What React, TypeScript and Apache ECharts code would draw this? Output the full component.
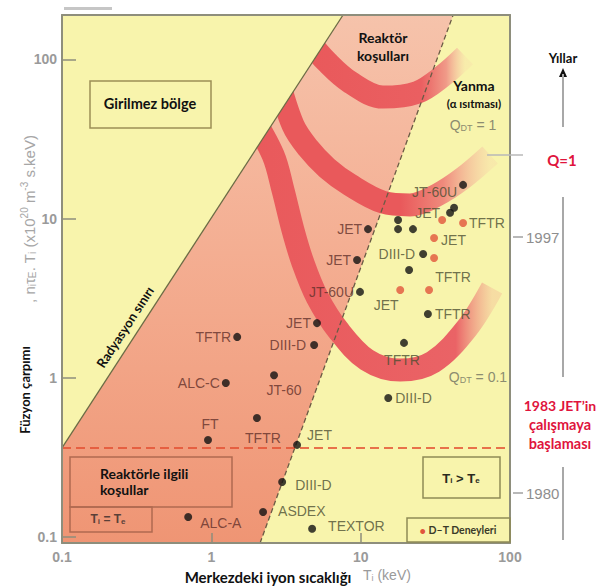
import React, { useEffect, useRef } from 'react';
import * as echarts from 'echarts';

// ---- axes (log-log) ----
const tiRange = [0.1, 100];
const productRange = [0.092, 190];
const tiTickValues = [0.1, 1, 10, 100];
const productTickValues = [0.1, 1, 10, 100];

// ---- experiments (black dots) ----
const machineNames = ['JT-60U', '', 'JET', '', '', '', 'JET', 'DIII-D', 'JET', '', 'JT-60U', 'TFTR', 'TFTR', 'JET', 'DIII-D', 'TFTR', 'ALC-C', 'JT-60', 'FT', 'TFTR', 'JET', 'DIII-D', 'ASDEX', 'TEXTOR', 'ALC-A', 'DIII-D'];
const machineTi = [48.5, 42.2, 39.7, 17.8, 17.8, 22.4, 11.2, 26.2, 9.46, 21.1, 9.9, 28.2, 19.5, 5.1, 4.88, 1.49, 1.25, 2.63, 0.95, 2.02, 3.75, 2.98, 2.22, 4.73, 0.7, 15.3];
const machineProduct = [16.3, 11.7, 10.9, 9.8, 8.6, 8.6, 8.6, 6.0, 5.5, 4.76, 3.47, 2.52, 1.66, 2.21, 1.61, 1.81, 0.93, 1.04, 0.408, 0.561, 0.38, 0.222, 0.144, 0.113, 0.134, 0.749];

// ---- D-T experiments (red dots) ----
const dtNames = ['', 'TFTR', 'JET', '', 'JET', 'TFTR'];
const dtTi = [35.1, 48.5, 31.0, 31.0, 18.4, 28.7];
const dtProduct = [9.8, 9.4, 7.57, 5.67, 3.57, 3.57];

// ---- Q bands ----
const ignitionBandTi = [4.44, 5.96, 8.49, 14.1, 23.9, 35.6, 50];
const ignitionBandProduct = [132, 96, 72, 58, 62, 79, 105];
const qOneBandTi = [2.75, 3.52, 4.44, 5.96, 8.49, 14.1, 21.4, 32.5, 48.5, 73.6];
const qOneBandProduct = [79.8, 38.7, 27.8, 20.8, 16.3, 12.7, 12.2, 14.1, 18.0, 25.1];
const qTenthBandTi = [1.815, 2.59, 3.02, 3.52, 4.11, 5.11, 7.06, 11.0, 18.4, 30.5, 51.6, 75.9];
const qTenthBandProduct = [46.1, 25.1, 15.1, 8.49, 5.27, 3.22, 2.0, 1.3, 1.12, 1.26, 2.06, 3.67];

// ---- boundaries ----
const radiationLimitTi = [0.1, 7.62];
const radiationLimitProduct = [0.3635, 190];
const reactorEdgeTi = [2.12, 41.6];
const reactorEdgeProduct = [0.092, 190];
const jetStartLevel = 0.3635;

// ---- year scale ----
const yearLabels = ['1997', '1980'];

// label placement (layout only): [align, dx, dy]
const machinePlacement: [string, number, number][] = [
  ['right', -6, 7], ['center', 0, 0], ['right', -10, 0], ['center', 0, 0], ['center', 0, 0], ['center', 0, 0],
  ['right', -6, 0], ['right', -8, 0], ['right', -6, 0], ['center', 0, 0], ['right', -6, 0], ['left', 7, 0],
  ['center', -2, 17], ['right', -6, 0], ['right', -8, 0], ['right', -6, 0], ['right', -6, 0], ['center', 10, 15],
  ['center', 2, -16], ['center', 6, 20], ['left', 10, -10], ['left', 13, 3], ['left', 15, -1], ['left', 16, -3],
  ['left', 12, 6], ['left', 7, 0],
];
const dtPlacement: [string, number, number][] = [
  ['center', 0, 0], ['left', 6, 0], ['left', 7, 2], ['center', 0, 0], ['center', -14, 15], ['center', 24, -13],
];

const GRID = { left: 62, top: 15, width: 448, height: 528 };
const YELLOW = '#f8f4ac';
const FRAME = '#8e8e7c';
const BAND = '#e9595b';
const BOLD = 'Lato, "Noto Sans", sans-serif';
const PLAIN = '"Liberation Sans", Arial, sans-serif';

const pxPerDecX = GRID.width / (Math.log10(tiRange[1]) - Math.log10(tiRange[0]));
const pxPerDecY = GRID.height / (Math.log10(productRange[1]) - Math.log10(productRange[0]));

function labelTone(x: number, y: number, align: string, dx: number, dy: number, text: string) {
  const w = text.length * 8.5;
  const cx = dx + (align === 'left' ? w / 2 : align === 'right' ? -w / 2 : 0);
  const lx = Math.log10(x) + cx / pxPerDecX;
  const ly = Math.log10(y) - dy / pxPerDecY;
  const ex0 = Math.log10(reactorEdgeTi[0]), ex1 = Math.log10(reactorEdgeTi[1]);
  const ey0 = Math.log10(reactorEdgeProduct[0]), ey1 = Math.log10(reactorEdgeProduct[1]);
  const edge = ex0 + ((ly - ey0) * (ex1 - ex0)) / (ey1 - ey0);
  return lx < edge ? '#62302a' : '#4c4e32';
}

function pointData(names: string[], xs: number[], ys: number[], place: [string, number, number][]) {
  return names.map((name, i) => {
    const [align, dx, dy] = place[i];
    return {
      value: [xs[i], ys[i]],
      name,
      label: name
        ? {
            show: true,
            position: 'inside',
            align,
            verticalAlign: 'middle',
            offset: [dx, dy],
            formatter: name,
            color: labelTone(xs[i], ys[i], align, dx, dy, name),
            fontSize: 14,
            fontFamily: PLAIN,
          }
        : { show: false },
    };
  });
}

function polygonSeries(pts: number[][], fill: any, z: number) {
  return {
    type: 'custom',
    coordinateSystem: 'cartesian2d',
    silent: true,
    clip: true,
    z,
    data: [pts[0]],
    renderItem: (_p: any, api: any) => ({
      type: 'polygon',
      shape: { points: pts.map((p) => api.coord(p)) },
      style: { fill },
    }),
  };
}

function bandSeries(xs: number[], ys: number[], stops: [number, string][]) {
  return {
    type: 'line',
    silent: true,
    z: 2,
    smooth: 0.35,
    showSymbol: false,
    data: xs.map((x, i) => [x, ys[i]]),
    lineStyle: {
      width: 23,
      cap: 'butt',
      color: new echarts.graphic.LinearGradient(0, 0, 1, 0, stops.map(([offset, color]) => ({ offset, color }))),
    },
  };
}

function tickFormatter(ticks: number[]) {
  return (v: number) => {
    const t = ticks.find((k) => Math.abs(Math.log10(k) - Math.log10(v)) < 0.01);
    return t === undefined ? '' : String(t);
  };
}

const txt = (x: number, y: number, text: string, style: any, extra: any = {}) => ({
  type: 'text', x, y, z: 50, silent: true,
  style: { text, align: 'center', verticalAlign: 'middle', ...style },
  ...extra,
});

export default function App() {
  const ref = useRef<HTMLDivElement>(null);
  useEffect(() => {
    if (!ref.current) return;
    const chart = echarts.init(ref.current, undefined, { renderer: 'svg' });

    const pinkPolygon = [
      [tiRange[0], productRange[0]],
      [tiRange[0], productRange[1]],
      [reactorEdgeTi[1], reactorEdgeProduct[1]],
      [reactorEdgeTi[0], reactorEdgeProduct[0]],
    ];
    const yellowTriangle = [
      [radiationLimitTi[0], radiationLimitProduct[0]],
      [radiationLimitTi[1], radiationLimitProduct[1]],
      [tiRange[0], productRange[1]],
    ];

    const sub = (size: number, color: string, weight = 'normal', family = PLAIN) => ({
      fontSize: size, fill: color, fontWeight: weight, fontFamily: family, padding: [size * 0.7, 0, 0, 0],
    });
    const sup = (size: number, color: string, family = PLAIN) => ({
      fontSize: size, fill: color, fontFamily: family, padding: [0, 0, size * 0.9, 0],
    });
    const norm = (size: number, color: string, weight = 'normal', family = PLAIN) => ({
      fontSize: size, fill: color, fontWeight: weight, fontFamily: family,
    });

    const axisBase = {
      type: 'log',
      logBase: 10,
      z: 20,
      splitLine: { show: false },
      minorTick: { show: false },
      axisLine: { show: true, onZero: false, lineStyle: { color: FRAME, width: 2 } },
    };

    const option: any = {
      animation: false,
      backgroundColor: '#ffffff',
      grid: { ...GRID, show: true, backgroundColor: YELLOW, borderWidth: 0 },
      xAxis: [
        {
          ...axisBase,
          min: tiRange[0], max: tiRange[1], position: 'bottom',
          axisTick: { show: true, inside: true, length: 10, lineStyle: { color: FRAME, width: 1.5 } },
          axisLabel: {
            show: true, margin: 7, color: '#9a9a9a', fontSize: 14, fontWeight: 'bold', fontFamily: PLAIN,
            formatter: tickFormatter(tiTickValues),
          },
        },
        {
          ...axisBase,
          min: tiRange[0], max: tiRange[1], position: 'top',
          axisTick: { show: false }, axisLabel: { show: false },
        },
      ],
      yAxis: [
        {
          ...axisBase,
          min: productRange[0], max: productRange[1], position: 'left',
          axisTick: { show: true, inside: true, length: 14, lineStyle: { color: FRAME, width: 1.5 } },
          axisLabel: {
            show: true, margin: 5, color: '#9a9a9a', fontSize: 14, fontWeight: 'bold', fontFamily: PLAIN,
            showMinLabel: false, showMaxLabel: false,
            formatter: tickFormatter(productTickValues),
          },
        },
        {
          ...axisBase,
          min: productRange[0], max: productRange[1], position: 'right',
          axisTick: { show: false }, axisLabel: { show: false },
        },
      ],
      series: [
        polygonSeries(
          pinkPolygon,
          new echarts.graphic.LinearGradient(0, 0, 0, 1, [
            { offset: 0, color: '#f6c3ab' },
            { offset: 0.45, color: '#f4ae92' },
            { offset: 1, color: '#ef9574' },
          ]),
          1
        ),
        bandSeries(ignitionBandTi, ignitionBandProduct, [[0, BAND], [0.72, '#ea5f61'], [0.88, '#f09a88'], [1, 'rgba(246,190,165,0.15)']]),
        bandSeries(qOneBandTi, qOneBandProduct, [[0, BAND], [0.58, BAND], [0.78, '#ef8a7c'], [1, 'rgba(246,190,165,0.2)']]),
        bandSeries(qTenthBandTi, qTenthBandProduct, [[0, BAND], [0.85, '#ea6366'], [1, 'rgba(240,150,135,0.25)']]),
        polygonSeries(yellowTriangle, YELLOW, 3),
        {
          type: 'line', silent: true, z: 4, showSymbol: false,
          data: radiationLimitTi.map((x, i) => [x, radiationLimitProduct[i]]),
          lineStyle: { color: '#6b6b45', width: 1.3 },
        },
        {
          type: 'line', silent: true, z: 4, showSymbol: false,
          data: reactorEdgeTi.map((x, i) => [x, reactorEdgeProduct[i]]),
          lineStyle: { color: '#6b5b45', width: 1.3, type: [5, 3] },
        },
        {
          type: 'line', silent: true, z: 4, showSymbol: false,
          data: [[tiRange[0], jetStartLevel], [tiRange[1], jetStartLevel]],
          lineStyle: { color: 'rgba(228,80,50,0.8)', width: 2, type: [9, 5] },
        },
        {
          type: 'scatter', z: 6, silent: true, symbolSize: 8,
          itemStyle: { color: '#111111' },
          data: pointData(machineNames, machineTi, machineProduct, machinePlacement),
        },
        {
          type: 'scatter', z: 6, silent: true, symbolSize: 8,
          itemStyle: { color: '#e1553c' },
          data: pointData(dtNames, dtTi, dtProduct, dtPlacement),
        },
      ],
      graphic: [
        { type: 'rect', z: 50, silent: true, shape: { x: 64, y: 7, width: 48, height: 3 }, style: { fill: '#a0a0a0', opacity: 0.6 } },
        // Girilmez bölge
        { type: 'rect', z: 50, silent: true, shape: { x: 90, y: 81, width: 121, height: 47 }, style: { fill: 'none', stroke: '#9c8f55', lineWidth: 1.5 } },
        txt(150, 103, 'Girilmez bölge', { font: `bold 14.5px ${BOLD}`, fill: '#111' }),
        // Reaktörle ilgili koşullar
        { type: 'rect', z: 50, silent: true, shape: { x: 70, y: 457, width: 162, height: 50 }, style: { fill: 'none', stroke: '#b06a50', lineWidth: 1.5 } },
        { type: 'rect', z: 50, silent: true, shape: { x: 70, y: 507, width: 82, height: 25 }, style: { fill: 'none', stroke: '#b06a50', lineWidth: 1.5 } },
        txt(100, 473, 'Reaktörle ilgili', { font: `bold 14px ${BOLD}`, fill: '#111', align: 'left' }),
        txt(100, 489, 'koşullar', { font: `bold 14px ${BOLD}`, fill: '#111', align: 'left' }),
        txt(108, 519, '{m|T}{s|i}{m| = T}{s|e}', {
          rich: { m: norm(12, '#5a4038', 'bold'), s: sub(8, '#5a4038', 'bold') },
        }),
        // Ti > Te
        { type: 'rect', z: 50, silent: true, shape: { x: 423, y: 457, width: 77, height: 41 }, style: { fill: 'none', stroke: '#8f8a55', lineWidth: 1.5 } },
        txt(461, 478, '{m|T}{s|i}{m| > T}{s|e}', {
          rich: { m: norm(13, '#2a2a20', 'bold'), s: sub(8, '#2a2a20', 'bold') },
        }),
        // legend
        { type: 'rect', z: 50, silent: true, shape: { x: 407, y: 518, width: 103, height: 24 }, style: { fill: 'none', stroke: '#8f8a55', lineWidth: 1.5 } },
        txt(458, 530, '{r|•}{t| D–T Deneyleri}', {
          rich: { r: norm(11, '#e1553c', 'bold', BOLD), t: norm(10.5, '#3a3a28', 'bold', BOLD) },
        }),
        // region texts
        txt(383, 37, 'Reaktör', { font: `bold 14px ${BOLD}`, fill: '#111' }),
        txt(383, 55, 'koşulları', { font: `bold 14px ${BOLD}`, fill: '#111' }),
        txt(474, 85, 'Yanma', { font: `bold 14px ${BOLD}`, fill: '#111' }),
        txt(474, 103, '(α ısıtması)', { font: `bold 11.5px ${BOLD}`, fill: '#111' }),
        txt(473, 125, '{m|Q}{s|DT}{m| = 1}', { rich: { m: norm(14, '#8c8c70'), s: sub(9, '#8c8c70') } }),
        txt(478, 377, '{m|Q}{s|DT}{m| = 0.1}', { rich: { m: norm(14, '#8c8c70'), s: sub(9, '#8c8c70') } }),
        txt(125, 327, 'Radyasyon sınırı', { font: `bold 13px ${BOLD}`, fill: '#111' }, { rotation: Math.atan2(433, 280) }),
        // axis titles
        txt(25, 390, 'Füzyon çarpımı', { font: `bold 13px ${BOLD}`, fill: '#111' }, { rotation: Math.PI / 2 }),
        txt(29, 219, '{m|, n}{s|i}{m|τ}{s|E}{m|. T}{s|i}{m| (x10}{p|20}{m| m}{p|-3}{m| s.keV)}', {
          rich: { m: norm(15, '#a6a6a6'), s: sub(10, '#a6a6a6'), p: sup(10, '#a6a6a6') },
        }, { rotation: Math.PI / 2 }),
        txt(268, 577, 'Merkezdeki iyon sıcaklığı', { font: `bold 15px ${BOLD}`, fill: '#111' }),
        txt(363, 575, '{m|T}{s|i}{m| (keV)}', { align: 'left', rich: { m: norm(14, '#9a9a9a'), s: sub(9, '#9a9a9a') } }),
        // years scale
        txt(563, 58, 'Yıllar', { font: `bold 13px ${BOLD}`, fill: '#111' }),
        { type: 'polygon', z: 50, silent: true, shape: { points: [[559, 77], [567, 77], [563, 68]] }, style: { fill: '#111' } },
        { type: 'line', z: 50, silent: true, shape: { x1: 563, y1: 74, x2: 563, y2: 127 }, style: { stroke: '#a8a8a8', lineWidth: 2 } },
        { type: 'line', z: 50, silent: true, shape: { x1: 563, y1: 197, x2: 563, y2: 377 }, style: { stroke: '#a8a8a8', lineWidth: 2 } },
        { type: 'line', z: 50, silent: true, shape: { x1: 563, y1: 467, x2: 563, y2: 540 }, style: { stroke: '#a8a8a8', lineWidth: 2 } },
        { type: 'line', z: 50, silent: true, shape: { x1: 487, y1: 155, x2: 523, y2: 155 }, style: { stroke: '#b8b8b8', lineWidth: 1.5 } },
        { type: 'line', z: 50, silent: true, shape: { x1: 513, y1: 237, x2: 523, y2: 237 }, style: { stroke: '#a0a0a0', lineWidth: 1.5 } },
        { type: 'line', z: 50, silent: true, shape: { x1: 513, y1: 493, x2: 523, y2: 493 }, style: { stroke: '#a0a0a0', lineWidth: 1.5 } },
        txt(526, 237, yearLabels[0], { font: `15px ${PLAIN}`, fill: '#8e8e8e', align: 'left' }),
        txt(526, 493, yearLabels[1], { font: `15px ${PLAIN}`, fill: '#8e8e8e', align: 'left' }),
        txt(562, 160, 'Q=1', { font: `bold 15px ${BOLD}`, fill: '#e0143c' }),
        txt(560, 405, '1983 JET’in', { font: `bold 14px ${BOLD}`, fill: '#e0143c' }),
        txt(560, 424, 'çalışmaya', { font: `bold 14.5px ${BOLD}`, fill: '#e0143c' }),
        txt(560, 443, 'başlaması', { font: `bold 14.5px ${BOLD}`, fill: '#e0143c' }),
      ],
    };

    chart.setOption(option);
    return () => chart.dispose();
  }, []);

  return (
    <div
      ref={ref}
      style={{ position: 'absolute', left: 0, top: 0, width: 597, height: 588, background: '#fff' }}
    />
  );
}
